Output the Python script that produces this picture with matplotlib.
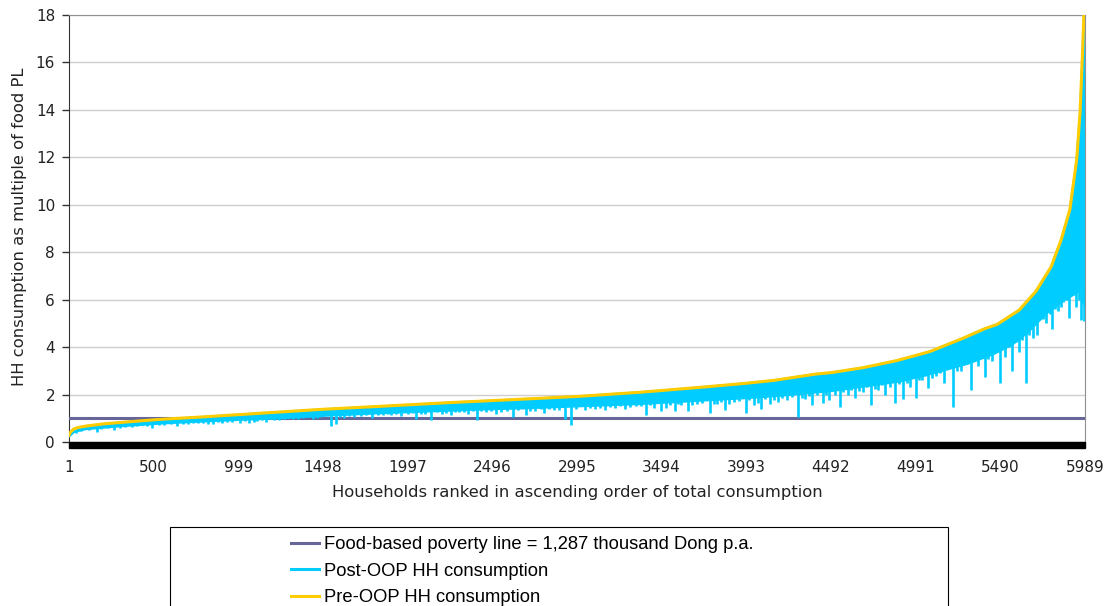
import numpy as np
import matplotlib.pyplot as plt
from matplotlib.patches import Rectangle, Polygon

pre_rank = [1, 10, 30, 60, 100, 200, 350, 550, 750, 950, 1150, 1500, 1800, 2245,
            2600, 3000, 3375, 3750, 4000, 4160, 4400, 4500, 4680, 4880, 5075, 5270,
            5400, 5470, 5600, 5700, 5790, 5850, 5900, 5940, 5960, 5975, 5985, 5989]
pre_val = [0.28, 0.42, 0.55, 0.62, 0.67, 0.76, 0.85, 0.96, 1.04, 1.13, 1.22, 1.38,
           1.49, 1.66, 1.78, 1.92, 2.10, 2.32, 2.48, 2.60, 2.86, 2.93, 3.13, 3.43,
           3.81, 4.37, 4.78, 4.95, 5.55, 6.35, 7.39, 8.55, 9.8, 11.9, 13.9, 16.5,
           18.5, 21.0]

# post-OOP consumption: lower edge of the solid band under the pre curve
band_rank = [1, 30, 100, 300, 550, 750, 1000, 1250, 1500, 1800, 2100, 2400, 2700,
             3000, 3375, 3750, 4000, 4200, 4500, 4700, 4900, 5100, 5300, 5450, 5560,
             5650, 5760, 5850, 5900, 5940, 5970, 5989]
band_low = [0.22, 0.42, 0.54, 0.66, 0.78, 0.85, 0.93, 1.00, 1.10, 1.20, 1.28, 1.36,
            1.42, 1.50, 1.60, 1.75, 1.85, 1.95, 2.15, 2.35, 2.55, 2.90, 3.30, 3.70,
            4.10, 4.60, 5.40, 5.90, 6.10, 6.30, 6.50, 7.00]

# post-OOP consumption: households hit hardest by OOP payments (deep spikes)
spike_rank = [40, 120, 164, 230, 265, 330, 400, 460, 490, 560, 635, 700, 760, 820,
              850, 900, 960, 1010, 1060, 1110, 1160, 1210, 1270, 1320, 1380, 1440, 1480,
              1548, 1575, 1620, 1680, 1720, 1784, 1850, 1900, 1960, 2000, 2049, 2100,
              2137, 2200, 2250, 2300, 2350, 2403, 2460, 2520, 2580, 2617, 2697, 2750,
              2800, 2860, 2923, 2962,
              3041, 3100, 3159, 3220, 3280, 3340, 3400, 3450, 3493, 3571, 3610, 3648,
              3700, 3777, 3820, 3866, 3920, 3993, 4040, 4081, 4130, 4180, 4230, 4296,
              4340, 4380, 4443, 4480,
              4543, 4590, 4631, 4680, 4730, 4770, 4808, 4867, 4916, 4960, 4991, 5030,
              5063, 5110, 5160, 5211, 5260, 5319, 5360, 5398, 5440, 5486, 5520, 5560,
              5600, 5643, 5680, 5704, 5722, 5760, 5797, 5830, 5849, 5870, 5895, 5915,
              5935, 5955, 5967, 5985]
spike_low = [0.40, 0.50, 0.43, 0.58, 0.50, 0.62, 0.66, 0.68, 0.60, 0.72, 0.68, 0.76,
             0.80, 0.74, 0.75, 0.78, 0.84, 0.80, 0.82, 0.90, 0.86, 0.92, 0.98, 0.95,
             1.02, 0.98, 1.05,
             0.68, 0.75, 1.00, 1.05, 1.08, 1.00, 1.12, 1.15, 1.10, 1.18, 0.95, 1.20,
             0.93, 1.20, 1.15, 1.25, 1.18, 0.93, 1.28, 1.20, 1.30, 1.05, 1.15, 1.30,
             1.22, 1.35, 0.96, 0.72,
             1.35, 1.40, 1.33, 1.45, 1.38, 1.50, 1.14, 1.45, 1.29, 1.29, 1.55, 1.30,
             1.60, 1.21, 1.60, 1.35, 1.70, 1.21, 1.55, 1.40, 1.62, 1.70, 1.75, 1.07,
             1.80, 1.55, 1.63, 1.75,
             1.49, 2.00, 1.84, 2.10, 1.56, 2.20, 1.96, 1.63, 1.80, 2.30, 1.84, 2.60,
             2.26, 2.80, 2.50, 1.49, 3.00, 2.19, 3.20, 2.75, 3.40, 2.47, 3.60, 3.00,
             3.80, 2.47, 4.40, 4.51, 5.70, 5.00, 4.75, 5.50, 5.70, 6.20, 5.22, 6.50,
             5.70, 6.00, 5.14, 5.10]

# shallower notches that make the lower edge of the band ragged
notch_rank = [70, 190, 300, 370, 430, 530, 600, 670, 730, 790, 880, 930, 1040, 1090,
              1140, 1190, 1240, 1300, 1350, 1410, 1460,
              1600, 1650, 1750, 1820, 1880, 1930, 2030, 2075, 2170, 2225, 2275, 2330,
              2380, 2430, 2490, 2550, 2650, 2720, 2780, 2830, 2890, 2990,
              3070, 3130, 3190, 3250, 3310, 3370, 3425, 3520, 3545, 3590, 3675, 3730,
              3800, 3845, 3890, 3950, 4010, 4060, 4105, 4155, 4205, 4260, 4320, 4360,
              4410, 4460,
              4515, 4565, 4610, 4655, 4705, 4750, 4790, 4840, 4890, 4940, 5010, 5045,
              5085, 5135, 5185, 5235, 5285, 5340, 5380, 5420, 5465, 5505, 5540, 5580,
              5620, 5660, 5740, 5780, 5815, 5860, 5880, 5925, 5945, 5975]
notch_low = [0.45, 0.55, 0.58, 0.64, 0.70, 0.70, 0.74, 0.76, 0.80, 0.78, 0.84, 0.86,
             0.88, 0.86, 0.92, 0.95, 0.94, 1.00, 0.98, 1.05, 1.02,
             1.05, 1.10, 1.12, 1.15, 1.18, 1.20, 1.22, 1.18, 1.25, 1.22, 1.28, 1.26,
             1.30, 1.30, 1.32, 1.28, 1.35, 1.32, 1.38, 1.40, 1.36, 1.40,
             1.45, 1.42, 1.48, 1.50, 1.48, 1.52, 1.55, 1.45, 1.55, 1.60, 1.55, 1.65,
             1.62, 1.70, 1.60, 1.72, 1.75, 1.65, 1.80, 1.78, 1.85, 1.90, 1.85, 1.95,
             2.00, 2.00,
             2.00, 2.10, 2.20, 2.15, 2.30, 2.25, 2.40, 2.30, 2.45, 2.50, 2.60, 2.80,
             2.70, 2.90, 3.10, 3.00, 3.30, 3.40, 3.60, 3.50, 3.80, 3.90, 4.00, 4.20,
             4.30, 4.50, 5.20, 5.40, 5.60, 5.90, 6.00, 6.20, 6.30, 5.80]

pov_rank = [1, 5989]
pov_val = [1, 1]

tick_rank = [1, 500, 999, 1498, 1997, 2496, 2995, 3494, 3993, 4492, 4991, 5490, 5989]

W, H = 1108, 606
fig = plt.figure(figsize=(W / 100, H / 100), dpi=100)
ax = fig.add_axes([69 / W, 1 - 442 / H, (1085 - 69) / W, (442 - 14.7) / H])

cyan = '#00CCFF'
l_pov, = ax.plot(pov_rank, pov_val, color='#666699', lw=2.2, zorder=3)

# solid part of the post-OOP band
ax.fill(pre_rank + band_rank[::-1], pre_val + band_low[::-1], color=cyan, lw=1.5, zorder=4)
# spikes and notches, kept under the pre-OOP curve
under_pre = Polygon(list(zip(pre_rank, pre_val)) + [(5989, 0), (1, 0)], transform=ax.transData)
for rk, lo in [(spike_rank, spike_low), (notch_rank, notch_low)]:
    vl = ax.vlines(rk, lo, 18, color=cyan, lw=1.9, zorder=4)
    vl.set_clip_path(under_pre)
l_post, = ax.plot([], [], color=cyan, lw=2.2)

l_pre, = ax.plot(pre_rank, pre_val, color='#FFCC00', lw=2.2, zorder=5)

ax.set_xlim(1, 5989)
ax.set_ylim(0, 18)
ax.set_yticks(range(0, 19, 2))
ax.set_xticks(tick_rank)
ax.set_xticklabels([str(t) for t in tick_rank])
ax.yaxis.grid(True, color='#cfcfcf', lw=1)
ax.set_axisbelow(True)

for s in ['top', 'right']:
    ax.spines[s].set_color('#909090')
ax.spines['left'].set_color('#333333')
ax.spines['bottom'].set_visible(False)
ax.tick_params(axis='y', length=5, width=1, pad=5, labelsize=11, color='#333333', labelcolor='#222222')
ax.tick_params(axis='x', length=0, pad=13, labelsize=11, labelcolor='#222222')

# dense category tick marks form a solid black band under the axis
fig.patches.append(Rectangle((69 / W, 1 - 447.5 / H), (1085 - 69) / W, 5.5 / H,
                             transform=fig.transFigure, color='black', zorder=10))

fig.text(20 / W, 1 - 227 / H, 'HH consumption as multiple of food PL', rotation=90,
         ha='center', va='center', fontsize=11.8, color='#222222')
fig.text(577 / W, 1 - 493 / H, 'Households ranked in ascending order of total consumption',
         ha='center', va='center', fontsize=11.8, color='#222222')

# legend box, cut off at the bottom like the original
fig.patches.append(Rectangle((170 / W, -0.05), (948 - 170) / W, 0.05 + (606 - 527) / H,
                             transform=fig.transFigure, facecolor='none', edgecolor='black', lw=0.8))
fig.legend([l_pov, l_post, l_pre],
           ['Food-based poverty line = 1,287 thousand Dong p.a.',
            'Post-OOP HH consumption', 'Pre-OOP HH consumption'],
           loc='upper left', bbox_to_anchor=(291 / W, 1 - 536 / H), frameon=False,
           handlelength=1.55, handletextpad=0.27, labelspacing=0.52, borderaxespad=0,
           borderpad=0, prop={'family': 'Liberation Sans', 'size': 13.2})

fig.savefig('out.png', dpi=100)
